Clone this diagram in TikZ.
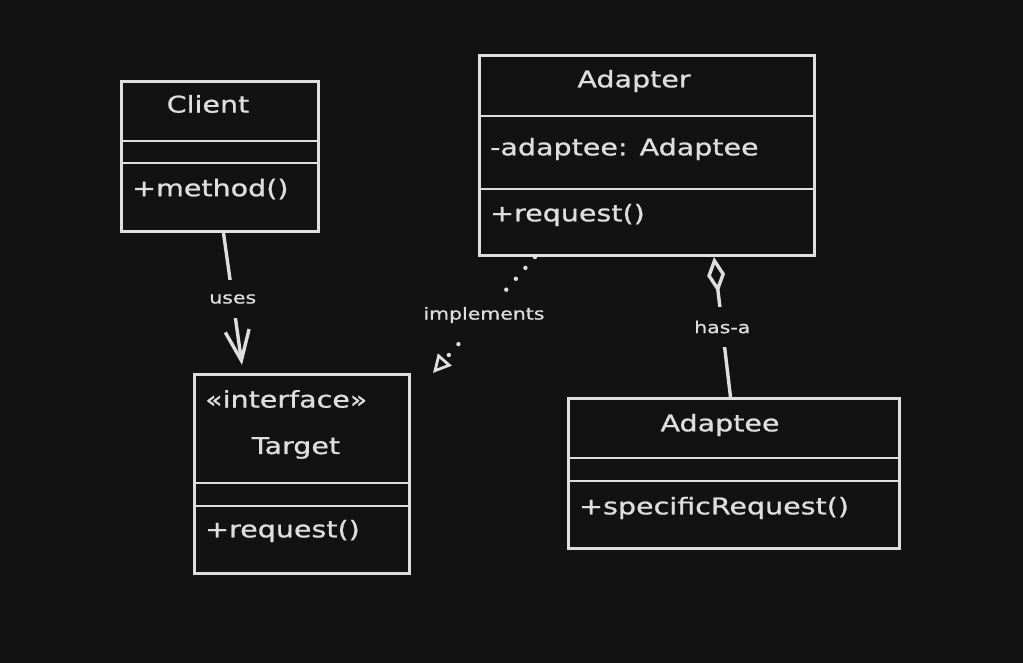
\documentclass[tikz,border=0pt]{standalone}
\usepackage{fontspec}
\setmainfont[FakeStretch=1.24, FakeBold=0.9]{DejaVu Sans}
\usepackage{xcolor}
\usetikzlibrary{positioning,arrows.meta}
\definecolor{board}{RGB}{18,18,18}
\definecolor{chalk}{RGB}{222,222,222}

\begin{document}
\begin{tikzpicture}[x=1pt, y=-1pt,
		classbox/.style={draw=chalk, line width=3pt, fill=board, anchor=north west, inner sep=0pt},
		member/.style={text=chalk, anchor=west, inner sep=0pt, font=\fontsize{23}{26}\selectfont},
		classname/.style={member, anchor=center},
		rel/.style={text=chalk, fill=board, inner xsep=3pt, inner ysep=14pt, font=\fontsize{16.5}{19}\selectfont},
		link/.style={draw=chalk, line width=3.4pt, line cap=round},
		sep/.style={draw=chalk, line width=2.2pt}]
		\fill[board] (0,0) rectangle (1023,663);
		% class boxes
		\node[classbox, minimum width=197pt, minimum height=150pt] (client) at (120,80) {};
		\node[classbox, minimum width=335pt, minimum height=200pt] (adapter) at (478,54) {};
		\node[classbox, minimum width=215pt, minimum height=199pt] (target) at (193,373) {};
		\node[classbox, minimum width=331pt, minimum height=150pt] (adaptee) at (567,397) {};
		% compartments
		\foreach \cls/\off in {client/61, client/83, adapter/62, adapter/135,
				target/110, target/133, adaptee/61, adaptee/84}
			\draw[sep] ([yshift=-\off pt]\cls.north west) -- ([yshift=-\off pt]\cls.north east);
		% texts
		\node[classname] (clientname) at (208,104) {Client};
		\node[member] (clientop) at (132,189) {+method()};
		\node[classname] (adaptername) at (634,81) {Adapter};
		\node[member] (adapterattr) at (490,149) {-adaptee: Adaptee};
		\node[member] (adapterop) at (490,215) {+request()};
		\node[member] (stereo) at (205,399) {«interface»};
		\node[classname] (targetname) at (296,448) {Target};
		\node[member] (targetop) at (205,531) {+request()};
		\node[classname] (adapteename) at (720,425) {Adaptee};
		\node[member] (adapteeop) at (579,508) {+specificRequest()};
		% relations
		\draw[link, -{Straight Barb[length=30pt, width=24pt]}]
			([xshift=3.5pt]client.south) -- ([xshift=49pt, yshift=8pt]target.north west)
			node[rel, midway] {uses};
		\draw[link, line width=4.4pt, dash pattern=on 0pt off 14.5pt,
			-{Triangle[open, length=18pt, width=18pt, line width=2.8pt]}]
			([xshift=57pt]adapter.south west) -- ([xshift=22pt]target.north east)
			node[rel, midway, inner ysep=14.5pt] {implements};
		\draw[link, {Diamond[open, length=36pt, width=18pt]}-]
			([xshift=67pt]adapter.south) -- ([xshift=-3.5pt]adaptee.north)
			node[rel, midway] {has-a};
	\end{tikzpicture}
\end{document}
